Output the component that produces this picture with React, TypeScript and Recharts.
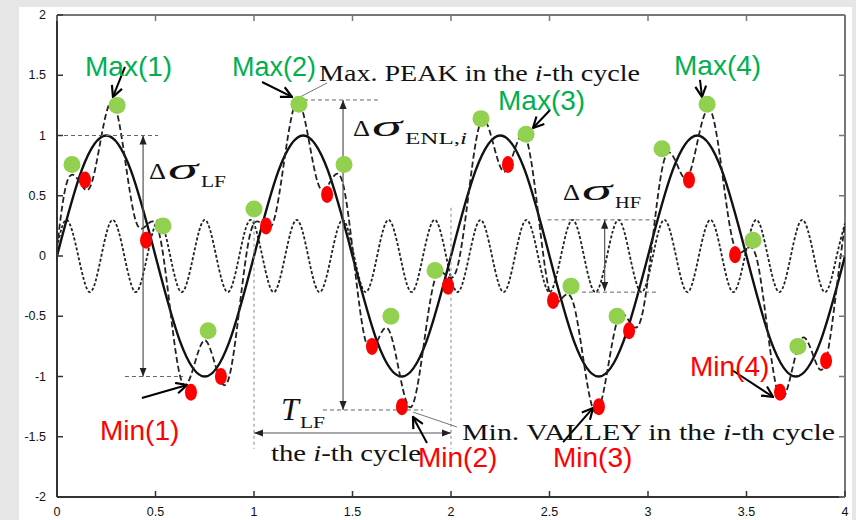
import React from 'react';
import { ComposedChart, Line, Scatter, XAxis, YAxis, ReferenceLine } from 'recharts';

// low-frequency component (solid)
const LF_X = [0, 0.125, 0.25, 0.375, 0.5, 0.625, 0.75, 0.875, 1, 1.125, 1.25, 1.375, 1.5, 1.625, 1.75, 1.875, 2, 2.125, 2.25, 2.375, 2.5, 2.625, 2.75, 2.875, 3, 3.125, 3.25, 3.375, 3.5, 3.625, 3.75, 3.875, 4];
const LF_Y = [0, 0.71, 1, 0.71, 0, -0.71, -1, -0.71, 0, 0.71, 1, 0.71, 0, -0.71, -1, -0.71, 0, 0.71, 1, 0.71, 0, -0.71, -1, -0.71, 0, 0.71, 1, 0.71, 0, -0.71, -1, -0.71, 0];

// sample positions shared by the high-frequency and combined curves
const HF_X = [0, 0.05, 0.108, 0.167, 0.225, 0.283, 0.342, 0.4, 0.458, 0.517, 0.575, 0.633, 0.692, 0.75, 0.808, 0.867, 0.925, 0.983, 1.042, 1.1, 1.158, 1.217, 1.275, 1.333, 1.392, 1.45, 1.508, 1.567, 1.625, 1.683, 1.742, 1.8, 1.858, 1.917, 1.975, 2.033, 2.092, 2.15, 2.208, 2.267, 2.325, 2.383, 2.442, 2.5, 2.558, 2.617, 2.675, 2.733, 2.792, 2.85, 2.908, 2.967, 3.025, 3.083, 3.142, 3.2, 3.258, 3.317, 3.375, 3.433, 3.492, 3.55, 3.608, 3.667, 3.725, 3.783, 3.842, 3.9, 3.958, 4];
const HF_Y = [0.07,
  0.3, 0, -0.3, 0, 0.3, 0, -0.3, 0, 0.3, 0, -0.3, 0, 0.3, 0, -0.3, 0, 0.3, 0, -0.3, 0, 0.3, 0, -0.3, 0, 0.3, 0, -0.3, 0, 0.3, 0, -0.3, 0, 0.3, 0, -0.3, 0,
  0.3, 0, -0.3, 0, 0.3, 0, -0.3, 0, 0.3, 0, -0.3, 0, 0.3, 0, -0.3, 0, 0.3, 0, -0.3, 0, 0.3, 0, -0.3, 0, 0.3, 0, -0.3, 0, 0.3, 0, -0.3, 0,
  0.27];
const MIX_Y = [0.07,
  0.61, 0.63, 0.57, 0.99, 1.28, 0.84, 0.29, 0.26, 0.2, -0.45,
  -1.04, -0.93, -0.7, -0.93, -1.04, -0.45, 0.2, 0.26, 0.29, 0.84,
  1.28, 0.99, 0.57, 0.63, 0.61, -0.05, -0.71, -0.71, -0.61, -1.0,
  -1.25, -0.78, -0.2, -0.16, -0.09, 0.55, 1.11, 0.97, 0.7, 0.89,
  0.97, 0.36, -0.3, -0.36, -0.37, -0.89, -1.3, -0.97, -0.51, -0.55,
  -0.51, 0.16, 0.8, 0.78, 0.65, 1.0, 1.21, 0.71, 0.11, 0.05,
  -0.01, -0.63, -1.17, -0.99, -0.68, -0.84, -0.89, -0.26,
  0.27];

// local peaks (green) and valleys (red)
const PEAK_X = [0.076, 0.305, 0.538, 0.767, 1.0, 1.228, 1.457, 1.695, 1.919, 2.152, 2.381, 2.609, 2.843, 3.071, 3.3, 3.533, 3.761];
const PEAK_Y = [0.76, 1.25, 0.25, -0.62, 0.39, 1.26, 0.76, -0.5, -0.12, 1.14, 1.01, -0.25, -0.5, 0.89, 1.26, 0.13, -0.75];
const VALLEY_X = [0.142, 0.452, 0.68, 0.832, 1.061, 1.371, 1.599, 1.751, 1.985, 2.289, 2.518, 2.751, 2.904, 3.208, 3.442, 3.67, 3.904];
const VALLEY_Y = [0.63, 0.13, -1.13, -1.0, 0.25, 0.51, -0.75, -1.25, -0.25, 0.76, -0.37, -1.25, -0.62, 0.63, 0.01, -1.13, -0.87];

const X_TICKS = [0, 0.5, 1, 1.5, 2, 2.5, 3, 3.5, 4];
const Y_TICKS = [-2, -1.5, -1, -0.5, 0, 0.5, 1, 1.5, 2];

const zip = (xs: number[], ys: number[]) => xs.map((x, i) => ({ x, y: ys[i] }));
const lfData = zip(LF_X, LF_Y);
const hfData = zip(HF_X, HF_Y);
const mixData = zip(HF_X, MIX_Y);
const peakData = zip(PEAK_X, PEAK_Y);
const valleyData = zip(VALLEY_X, VALLEY_Y);

const PLOT_TOP = 15;
const PLOT_BOTTOM = 497;
const PLOT_LEFT = 57;
const PLOT_RIGHT = 845;

const SANS = '"Liberation Sans", Arial, sans-serif';
const SERIF = '"Liberation Serif", "Times New Roman", serif';
const GREEN_TXT = '#00b050';
const RED_TXT = '#ff0000';

const XTick = (props: any) => {
  const { x, y, payload } = props;
  return (
    <g>
      <line x1={x} x2={x} y1={PLOT_BOTTOM} y2={PLOT_BOTTOM - 6} stroke="#333" strokeWidth={1.5} />
      <line x1={x} x2={x} y1={PLOT_TOP} y2={PLOT_TOP + 6} stroke="#777" strokeWidth={1.5} />
      <text x={x} y={y} dy={11} textAnchor="middle" fontSize={12.5} fontFamily={SANS} fill="#111">
        {payload.value}
      </text>
    </g>
  );
};

const YTick = (props: any) => {
  const { x, y, payload } = props;
  return (
    <g>
      <line x1={PLOT_LEFT} x2={PLOT_LEFT + 6} y1={y} y2={y} stroke="#333" strokeWidth={1.5} />
      <line x1={PLOT_RIGHT} x2={PLOT_RIGHT - 6} y1={y} y2={y} stroke="#777" strokeWidth={1.5} />
      <text x={x - 3} y={y} dy={4} textAnchor="end" fontSize={12.5} fontFamily={SANS} fill="#111">
        {payload.value}
      </text>
    </g>
  );
};

const GreenDot = (p: any) => <circle cx={p.cx} cy={p.cy} r={8.5} fill="#92d050" />;
const RedDot = (p: any) => <ellipse cx={p.cx} cy={p.cy} rx={6} ry={8.5} fill="#ff0000" />;

type Seg = [number, number, number, number];

// black pointers from the labels to the marked extremes
const POINTERS: Seg[] = [
  [0.345, 1.57, 0.284, 1.32],
  [1.041, 1.444, 1.193, 1.32],
  [2.503, 1.212, 2.416, 1.062],
  [3.264, 1.461, 3.274, 1.32],
  [0.431, -1.178, 0.66, -1.071],
  [1.878, -1.552, 1.807, -1.336],
  [2.569, -1.544, 2.721, -1.261],
  [3.426, -0.946, 3.635, -1.17],
];
const GUIDES: Seg[] = [
  [0, 1, 0.513, 1],
  [0.345, -1, 0.64, -1],
  [1.218, 1.295, 1.64, 1.295],
  [1.35, -1.278, 1.858, -1.278],
  [2.49, 0.3, 3.03, 0.3],
  [2.665, -0.3, 3.046, -0.3],
];
const PERIOD_MARKS: Seg[] = [
  [1, 0.35, 1, -1.6],
  [2, 0.4, 2, -1.6],
];
const SPANS: Seg[] = [
  [0.437, -1, 0.437, 1],
  [1.452, -1.278, 1.452, 1.295],
  [2.78, -0.29, 2.78, 0.3],
  [1, -1.469, 2, -1.469],
];
const LEADERS: Seg[] = [
  [1.371, 1.436, 1.234, 1.32],
  [1.807, -1.295, 2.03, -1.419],
];

const seg = (s: Seg) => [{ x: s[0], y: s[1] }, { x: s[2], y: s[3] }];

const DeltaSigma = ({ x, y, sub, subLen }: { x: number; y: number; sub: React.ReactNode; subLen: number }) => (
  <g fontFamily={SERIF} fill="#111">
    <text x={x} y={y} fontSize={24} textLength={17} lengthAdjust="spacingAndGlyphs">Δ</text>
    <text x={x + 19} y={y} fontSize={30} fontStyle="italic" textLength={30} lengthAdjust="spacingAndGlyphs">σ</text>
    <text x={x + 52} y={y + 8} fontSize={17} textLength={subLen} lengthAdjust="spacingAndGlyphs">{sub}</text>
  </g>
);

const App: React.FC = () => {
  return (
    <div style={{ position: 'absolute', left: 0, top: 0, width: 856, height: 520, background: '#e6e6e6', overflow: 'hidden' }}>
      <div style={{ position: 'absolute', left: 19, top: 7, width: 833, height: 513, background: '#fff' }} />
      <div style={{ position: 'absolute', left: 0, top: 0 }}>
        <ComposedChart width={856} height={520} margin={{ top: 15, right: 11, bottom: 3, left: 17 }}>
          <defs>
            <marker id="openArrow" viewBox="0 0 12 12" refX="11" refY="6" markerWidth="13" markerHeight="13" markerUnits="userSpaceOnUse" orient="auto">
              <path d="M1,1 L11,6 L1,11" fill="none" stroke="#000" strokeWidth="2" />
            </marker>
            <marker id="solidArrow" viewBox="0 0 10 10" refX="10" refY="5" markerWidth="9" markerHeight="9" markerUnits="userSpaceOnUse" orient="auto-start-reverse">
              <path d="M0,1 L10,5 L0,9 z" fill="#222" />
            </marker>
          </defs>
          <XAxis
            type="number"
            dataKey="x"
            domain={[0, 4]}
            ticks={X_TICKS}
            allowDataOverflow
            height={20}
            tickLine={false}
            axisLine={{ stroke: '#333', strokeWidth: 2 }}
            tick={<XTick />}
          />
          <YAxis
            type="number"
            dataKey="y"
            domain={[-2, 2]}
            ticks={Y_TICKS}
            allowDataOverflow
            width={40}
            tickLine={false}
            axisLine={{ stroke: '#333', strokeWidth: 2 }}
            tick={<YTick />}
          />
          <ReferenceLine y={2} stroke="#777" strokeWidth={2} ifOverflow="visible" />
          <ReferenceLine x={4} stroke="#777" strokeWidth={2} ifOverflow="visible" />

          <Line data={hfData} dataKey="y" type="natural" stroke="#222" strokeWidth={1.8} strokeDasharray="3 2" dot={false} activeDot={false} isAnimationActive={false} />
          <Line data={lfData} dataKey="y" type="natural" stroke="#111" strokeWidth={2.4} dot={false} activeDot={false} isAnimationActive={false} />
          <Line data={mixData} dataKey="y" type="natural" stroke="#222" strokeWidth={1.8} strokeDasharray="6 3" dot={false} activeDot={false} isAnimationActive={false} />

          {GUIDES.map((s, i) => (
            <ReferenceLine key={`g${i}`} segment={seg(s)} stroke="#666" strokeWidth={1} strokeDasharray="4 3" ifOverflow="visible" />
          ))}
          {PERIOD_MARKS.map((s, i) => (
            <ReferenceLine key={`p${i}`} segment={seg(s)} stroke="#999" strokeWidth={1.2} strokeDasharray="3 3" ifOverflow="visible" />
          ))}
          {SPANS.map((s, i) => (
            <ReferenceLine key={`s${i}`} segment={seg(s)} stroke="#555" strokeWidth={1.2} markerStart="url(#solidArrow)" markerEnd="url(#solidArrow)" ifOverflow="visible" />
          ))}
          {LEADERS.map((s, i) => (
            <ReferenceLine key={`l${i}`} segment={seg(s)} stroke="#777" strokeWidth={1} ifOverflow="visible" />
          ))}

          <Scatter data={peakData} shape={GreenDot} isAnimationActive={false} />
          <Scatter data={valleyData} shape={RedDot} isAnimationActive={false} />

          {POINTERS.map((s, i) => (
            <ReferenceLine key={`a${i}`} segment={seg(s)} stroke="#000" strokeWidth={2} markerEnd="url(#openArrow)" ifOverflow="visible" />
          ))}
        </ComposedChart>
      </div>
      <svg width={856} height={520} style={{ position: 'absolute', left: 0, top: 0, pointerEvents: 'none' }}>
        <g fontFamily={SANS} fontSize={28}>
          <text x={85} y={76} fill={GREEN_TXT}>Max(1)</text>
          <text x={232} y={76} fontSize={27} fill={GREEN_TXT}>Max(2)</text>
          <text x={498} y={110} fill={GREEN_TXT}>Max(3)</text>
          <text x={674} y={75} fill={GREEN_TXT}>Max(4)</text>
          <text x={100} y={440} fill={RED_TXT}>Min(1)</text>
          <text x={418} y={467} fill={RED_TXT}>Min(2)</text>
          <text x={553} y={467} fill={RED_TXT}>Min(3)</text>
          <text x={690} y={376} fill={RED_TXT}>Min(4)</text>
        </g>
        <g fontFamily={SERIF} fontSize={24} fill="#111">
          <text x={319} y={81} textLength={321} lengthAdjust="spacingAndGlyphs">
            Max. PEAK in the <tspan fontStyle="italic">i</tspan>-th cycle
          </text>
          <text x={462} y={440} textLength={373} lengthAdjust="spacingAndGlyphs">
            Min. VALLEY in the <tspan fontStyle="italic">i</tspan>-th cycle
          </text>
          <text x={271} y={461} textLength={150} lengthAdjust="spacingAndGlyphs">
            the <tspan fontStyle="italic">i</tspan>-th cycle
          </text>
          <text x={281} y={420} fontSize={32} fontStyle="italic">T</text>
          <text x={300} y={428} fontSize={17} textLength={25} lengthAdjust="spacingAndGlyphs">LF</text>
        </g>
        <DeltaSigma x={149} y={179} sub="LF" subLen={25} />
        <DeltaSigma x={353} y={136} sub={<>ENL,<tspan fontStyle="italic">i</tspan></>} subLen={62} />
        <DeltaSigma x={563} y={200} sub="HF" subLen={26} />
      </svg>
    </div>
  );
};

export default App;
